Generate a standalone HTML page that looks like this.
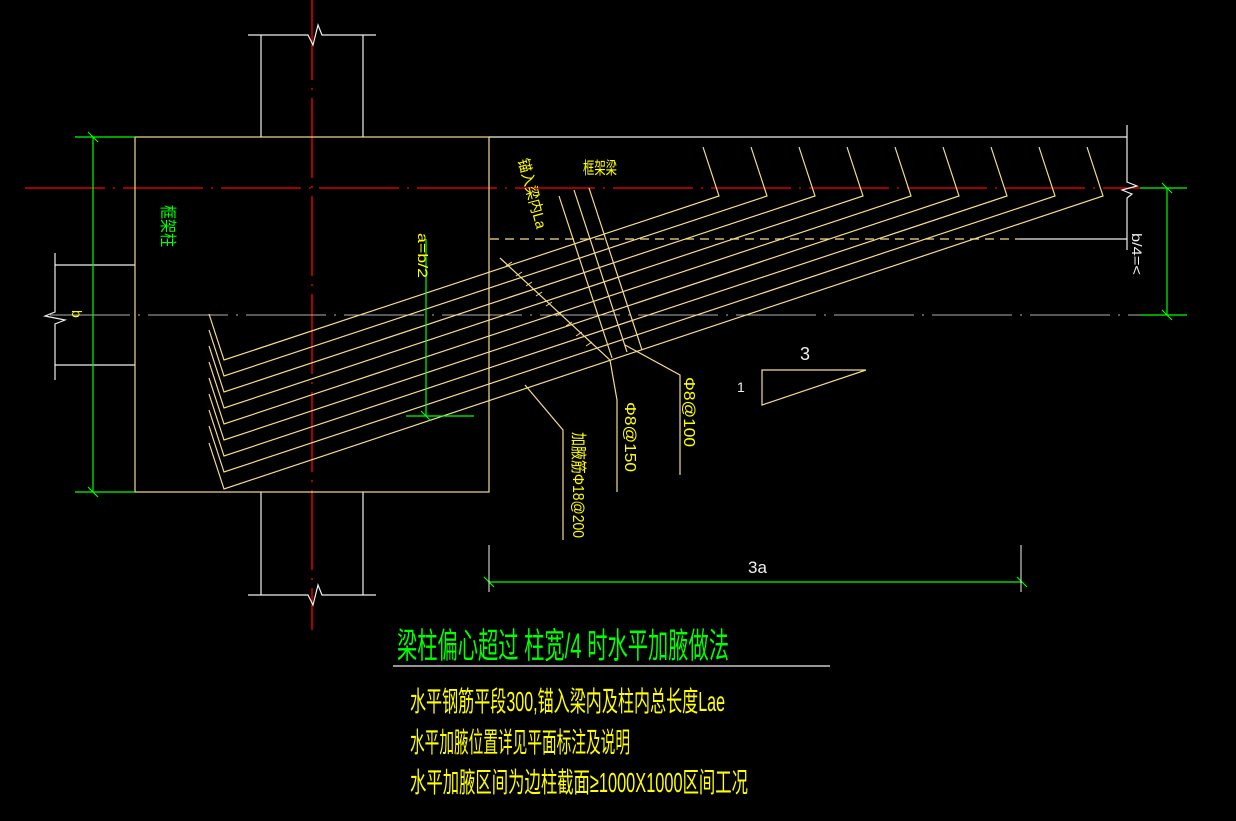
<!DOCTYPE html>
<html><head><meta charset="utf-8"><style>
html,body{margin:0;padding:0;background:#000;}
svg{display:block;}
text{font-family:"Liberation Sans","Noto Sans CJK SC",sans-serif;}
</style></head><body>
<svg width="1236" height="821" viewBox="0 0 1236 821" xmlns="http://www.w3.org/2000/svg">
<rect width="1236" height="821" fill="#000"/>
<g stroke="#ff0000" stroke-width="1.3" fill="none" stroke-dasharray="80,8,2,8">
<line x1="25" y1="188" x2="1140" y2="188"/>
<line x1="312" y1="0" x2="312" y2="630"/>
</g>
<line x1="50" y1="315" x2="1145" y2="315" stroke="#b0b0b0" stroke-width="1" stroke-dasharray="80,8,2,8"/>
<g stroke="#f0f0f0" stroke-width="1.2" fill="none">
<line x1="261" y1="35" x2="261" y2="137"/><line x1="363" y1="35" x2="363" y2="137"/>
<polyline points="248,35 308,35 313,45 318,25 322,35 376,35"/>
<line x1="261" y1="492" x2="261" y2="595"/><line x1="363" y1="492" x2="363" y2="595"/>
<polyline points="248,595 308,595 313,605 318,585 322,595 376,595"/>
<line x1="55" y1="265" x2="135" y2="265"/><line x1="55" y1="365" x2="135" y2="365"/>
<polyline points="55,253 55,312 45,316 65,320 55,324 55,380"/>
<line x1="489" y1="137" x2="1127" y2="137"/>
<line x1="1020" y1="239" x2="1127" y2="239"/>
<polyline points="1127,125 1127,182 1137,186 1122,190 1132,194 1127,198 1127,250"/>
</g>
<g stroke="#f5dc8c" stroke-width="1.2" fill="none">
<rect x="135" y="137" width="354" height="355"/>
<line x1="490" y1="239" x2="1020" y2="239" stroke-dasharray="9,6"/>
<polyline points="209,314 224,360 719,196 703,147"/>
<polyline points="209,330 224,376 767,196 751,147"/>
<polyline points="209,346 224,392 815,196 799,147"/>
<polyline points="209,362 224,408 863,196 847,147"/>
<polyline points="209,378 224,424 911,196 895,147"/>
<polyline points="209,394 224,440 959,196 943,147"/>
<polyline points="209,410 224,456 1007,196 991,147"/>
<polyline points="209,426 224,472 1055,196 1039,147"/>
<polyline points="209,443 224,489 1103,196 1087,147"/>
<line x1="559" y1="196" x2="612" y2="358"/>
<line x1="574" y1="190" x2="627" y2="352"/>
<line x1="589" y1="188" x2="642" y2="350"/>
<polyline points="500,258 610,360 617,400 617,492"/>
<polyline points="625,345 680,375 680,475"/>
<polyline points="525,385 563,430 563,540"/>
<polygon points="762,370 866,370 762,405"/>
</g>
<g stroke="#f5dc8c" stroke-width="1">
<path d="M506,266l6,-4M516,276l6,-4M526,286l6,-4M536,296l6,-4M546,306l6,-4M556,316l6,-4M566,326l6,-4M576,336l6,-4M586,346l6,-4"/>
</g>
<g stroke="#00ff00" stroke-width="1.2" fill="none">
<line x1="93" y1="137" x2="93" y2="492"/>
<line x1="75" y1="137" x2="135" y2="137"/><line x1="75" y1="492" x2="135" y2="492"/>
<line x1="88" y1="132" x2="98" y2="142"/><line x1="88" y1="487" x2="98" y2="497"/>
<line x1="426" y1="239" x2="426" y2="416"/><line x1="406" y1="416" x2="474" y2="416"/>
<line x1="421" y1="411" x2="431" y2="421"/>
<line x1="1167" y1="188" x2="1167" y2="315"/>
<line x1="1140" y1="188" x2="1187" y2="188"/><line x1="1140" y1="315" x2="1187" y2="315"/>
<line x1="1162" y1="183" x2="1172" y2="193"/><line x1="1162" y1="310" x2="1172" y2="320"/>
<line x1="489" y1="582" x2="1022" y2="582"/>
<line x1="484" y1="577" x2="494" y2="587"/><line x1="1017" y1="577" x2="1027" y2="587"/>
</g>
<g stroke="#f0f0f0" stroke-width="1"><line x1="489" y1="545" x2="489" y2="592"/><line x1="1021" y1="545" x2="1021" y2="592"/></g>
<text transform="translate(162,205) rotate(90)" fill="#00ff00" font-size="17" textLength="42" lengthAdjust="spacingAndGlyphs">框架柱</text>
<text x="583" y="174" fill="#ffff00" font-size="17" textLength="34" lengthAdjust="spacingAndGlyphs">框架梁</text>
<text transform="translate(518,160) rotate(75)" fill="#ffff00" font-size="15" textLength="72" lengthAdjust="spacingAndGlyphs">锚入梁内La</text>
<text transform="translate(418,233) rotate(90)" fill="#ffff00" font-size="14" textLength="45" lengthAdjust="spacingAndGlyphs">a=b/2</text>
<text transform="translate(72,310) rotate(90)" fill="#ffff00" font-size="14">b</text>
<text transform="translate(1132,233) rotate(90)" fill="#f0f0f0" font-size="14" textLength="42" lengthAdjust="spacingAndGlyphs">b/4=&lt;</text>
<text transform="translate(573,432) rotate(90)" fill="#ffff00" font-size="16" textLength="106" lengthAdjust="spacingAndGlyphs">加腋筋Φ18@200</text>
<text transform="translate(625,402) rotate(90)" fill="#ffff00" font-size="16" textLength="70" lengthAdjust="spacingAndGlyphs">Φ8@150</text>
<text transform="translate(684,377) rotate(90)" fill="#ffff00" font-size="16" textLength="70" lengthAdjust="spacingAndGlyphs">Φ8@100</text>
<text x="800" y="360" fill="#f0f0f0" font-size="18">3</text>
<text x="737" y="392" fill="#f0f0f0" font-size="14">1</text>
<text x="748" y="573" fill="#f0f0f0" font-size="17">3a</text>
<text x="397" y="658" fill="#00ff00" font-size="35" textLength="332" lengthAdjust="spacingAndGlyphs">梁柱偏心超过 柱宽/4  时水平加腋做法</text>
<line x1="393" y1="666" x2="830" y2="666" stroke="#f0f0f0" stroke-width="1.2"/>
<text x="410" y="711" fill="#ffff00" font-size="28" textLength="315" lengthAdjust="spacingAndGlyphs">水平钢筋平段300,锚入梁内及柱内总长度Lae</text>
<text x="410" y="752" fill="#ffff00" font-size="28" textLength="220" lengthAdjust="spacingAndGlyphs">水平加腋位置详见平面标注及说明</text>
<text x="410" y="792" fill="#ffff00" font-size="28" textLength="338" lengthAdjust="spacingAndGlyphs">水平加腋区间为边柱截面≥1000X1000区间工况</text>
</svg>
</body></html>
